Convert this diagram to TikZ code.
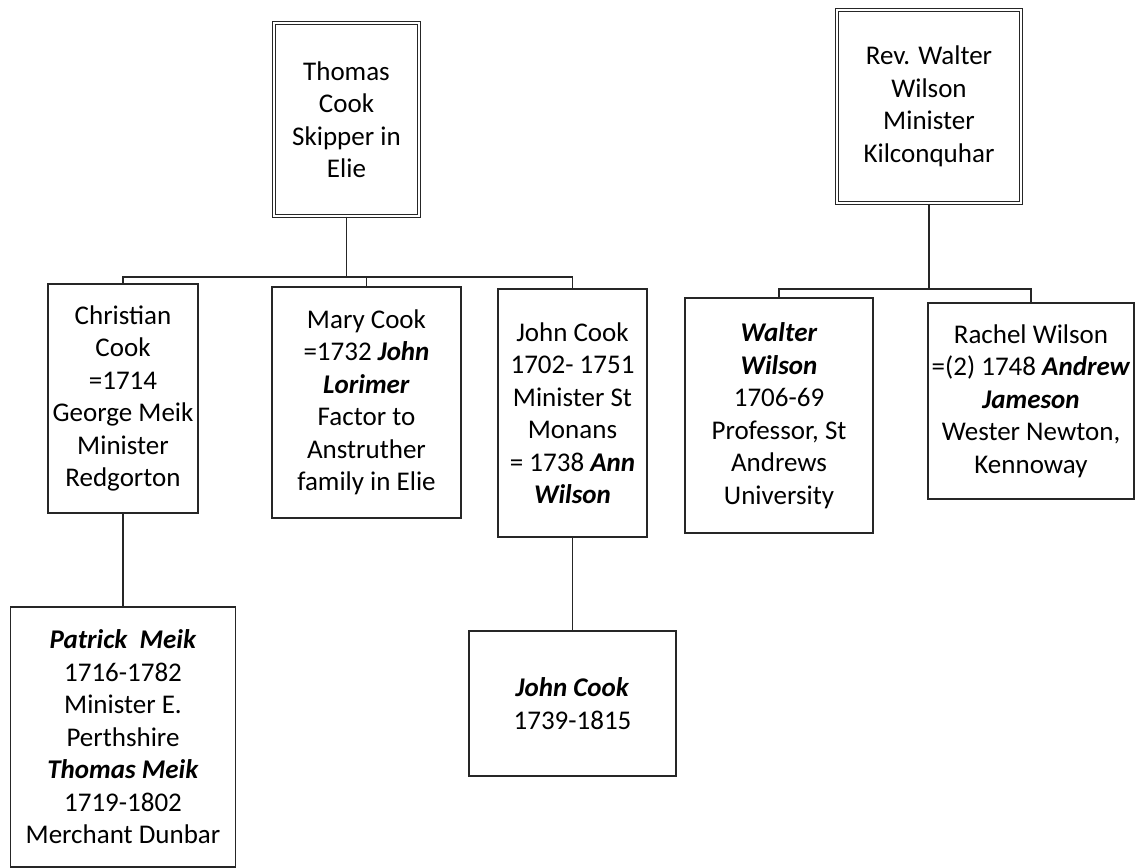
\documentclass[tikz,border=0pt]{standalone}
\usepackage{fontspec}
\setmainfont{Carlito}
\newcommand\bxi[1]{\textbf{\textit{#1}}}
\begin{document}
\begin{tikzpicture}[x=1pt,y=-1pt,
  person/.style={draw=black!85, line width=1.3pt, inner sep=0pt, align=center,
    font=\fontsize{27}{32.5}\selectfont, text=black},
  founder/.style={person, double=white, double distance=2.4pt, line width=1.1pt},
  link/.style={draw=black!85, line width=1.3pt}]
\useasboundingbox (0,0) rectangle (1136,868);

\node[founder, minimum width=145pt, minimum height=193pt] (thomas) at (346.5,119.5)
  {Thomas\\Cook\\Skipper in\\Elie};
\node[founder, minimum width=184pt, minimum height=193pt] (walter) at (929,106.5)
  {Rev. Walter\\Wilson\\Minister\\Kilconquhar};

\node[person, minimum width=150pt, minimum height=229pt] (christian) at (123,398.5)
  {Christian\\Cook\\=1714\\George Meik\\Minister\\Redgorton};
\node[person, minimum width=189pt, minimum height=231pt] (mary) at (366.5,402.5)
  {Mary Cook\\=1732 \bxi{John}\\\bxi{Lorimer}\\Factor to\\Anstruther\\family in Elie};
\node[person, minimum width=149pt, minimum height=248pt] (john) at (572.5,413)
  {John Cook\\1702- 1751\\Minister St\\Monans\\= 1738 \bxi{Ann}\\\bxi{Wilson}};
\node[person, minimum width=188pt, minimum height=235pt] (wwilson) at (779,415.5)
  {\bxi{Walter}\\\bxi{Wilson}\\1706-69\\Professor, St\\Andrews\\University};
\node[person, minimum width=206pt, minimum height=196pt] (rachel) at (1031,401)
  {Rachel Wilson\\=(2) 1748 \bxi{Andrew}\\\bxi{Jameson}\\Wester Newton,\\Kennoway};
\node[person, minimum width=225pt, minimum height=260pt] (patrick) at (123,737)
  {\bxi{Patrick\ \ Meik}\\1716-1782\\Minister E.\\Perthshire\\\bxi{Thomas Meik}\\1719-1802\\Merchant Dunbar};
\node[person, minimum width=207pt, minimum height=145pt] (johnjr) at (572.5,703.5)
  {\bxi{John Cook}\\1739-1815};

\coordinate (bus1) at (346.5,277);
\coordinate (bus2) at (929,289);

\draw[link] (thomas.south) -- (bus1);
\draw[link] (christian.north) |- (bus1) -| (john.north);
\draw[link] (mary.north) -- (mary.north |- bus1);
\draw[link] (walter.south) -- (bus2);
\draw[link] (wwilson.north) |- (bus2) -| (rachel.north);
\draw[link] (christian.south) -- (patrick.north);
\draw[link] (john.south) -- (johnjr.north);
\end{tikzpicture}
\end{document}
